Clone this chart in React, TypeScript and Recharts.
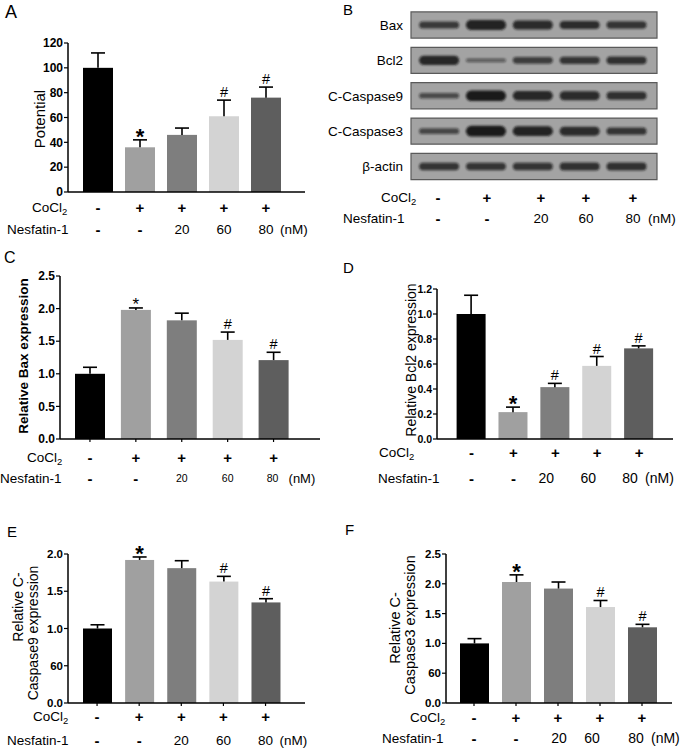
import React from 'react';
import { BarChart, Bar, XAxis, YAxis, Cell, ScatterChart, Scatter, ReferenceArea } from 'recharts';

const W = 685;
const H = 755;
const FONT = '"Liberation Sans", Arial, Helvetica, sans-serif';

// shared groups and treatment rows
const groups = ['Control', 'CoCl2', 'CoCl2+N20', 'CoCl2+N60', 'CoCl2+N80'];
const cocl2Row = ['-', '+', '+', '+', '+'];
const nesfatinRow = ['-', '-', '20', '60', '80'];
const barColors = ['#000000', '#a0a0a0', '#7e7e7e', '#d3d3d3', '#5e5e5e'];

// A - potential
const potentialMean = [100, 36, 46, 61, 76];
const potentialSd = [12, 6, 5.5, 13, 8.5];
const potentialSig = ['', '*', '', '#', '#'];
const potentialTicks = [0, 20, 40, 60, 80, 100, 120];
const potentialTickText = ['0', '20', '40', '60', '80', '100', '120'];

// C - Bax
const baxMean = [1.0, 1.98, 1.82, 1.52, 1.21];
const baxSd = [0.1, 0.03, 0.11, 0.12, 0.12];
const baxSig = ['', '*', '', '#', '#'];
const baxTicks = [0, 0.5, 1, 1.5, 2, 2.5];
const baxTickText = ['0.0', '0.5', '1.0', '1.5', '2.0', '2.5'];

// D - Bcl2
const bcl2Mean = [1.0, 0.215, 0.415, 0.585, 0.725];
const bcl2Sd = [0.15, 0.04, 0.03, 0.075, 0.02];
const bcl2Sig = ['', '*', '#', '#', '#'];
const bcl2Ticks = [0, 0.2, 0.4, 0.6, 0.8, 1.0, 1.2];
const bcl2TickText = ['0.0', '0.2', '0.4', '0.6', '0.8', '1.0', '1.2'];

// E - C-Caspase9
const casp9Mean = [1.0, 1.92, 1.81, 1.63, 1.35];
const casp9Sd = [0.05, 0.04, 0.1, 0.07, 0.05];
const casp9Sig = ['', '*', '', '#', '#'];
const casp9Ticks = [0, 0.5, 1, 1.5, 2];
const casp9TickText = ['0.0', '60', '1.0', '1.5', '2.0'];

// F - C-Caspase3
const casp3Mean = [1.0, 2.03, 1.92, 1.61, 1.27];
const casp3Sd = [0.08, 0.12, 0.11, 0.11, 0.05];
const casp3Sig = ['', '*', '', '#', '#'];
const casp3Ticks = [0, 0.5, 1, 1.5, 2, 2.5];
const casp3TickText = ['0.0', '60', '1.0', '1.5', '2.0', '2.5'];

// B - western blot band strength (0..1) per lane
const blotProteins = ['Bax', 'Bcl2', 'C-Caspase9', 'C-Caspase3', 'β-actin'];
const baxBand = [0.5, 0.85, 0.75, 0.65, 0.55];
const bcl2Band = [0.8, 0.1, 0.45, 0.55, 0.6];
const casp9Band = [0.3, 0.95, 0.8, 0.75, 0.6];
const casp3Band = [0.35, 0.95, 0.85, 0.75, 0.55];
const actinBand = [0.55, 0.55, 0.55, 0.6, 0.6];
const blotLanes = [1, 2, 3, 4, 5];

type PanelCfg = {
  letter: string;
  letterPos: [number, number];
  letterSize: number;
  mean: number[];
  sd: number[];
  sig: string[];
  ticks: number[];
  tickText: string[];
  tickFont: number;
  plot: { left: number; right: number; top: number; bottom: number };
  pad: [number, number];
  barSize: number;
  star: { size: number; bold: boolean };
  yLabel: { lines: string[]; xs: number[]; ys: number[]; bold: boolean; size: number };
  rows: { titleX: [number, number]; y: [number, number]; doseSize: number; doseDx: number[]; nmGap: number; nmSize: number };
  xTicks: boolean;
};

const panels: PanelCfg[] = [
  {
    letter: 'A', letterPos: [5, 18], letterSize: 18,
    mean: potentialMean, sd: potentialSd, sig: potentialSig,
    ticks: potentialTicks, tickText: potentialTickText, tickFont: 12,
    plot: { left: 68, right: 305, top: 43, bottom: 192 }, pad: [9, 18], barSize: 30,
    star: { size: 22, bold: true },
    yLabel: { lines: ['Potential'], xs: [39], ys: [119], bold: false, size: 15 },
    rows: { titleX: [32, 7], y: [207, 229], doseSize: 13.5, doseDx: [0, 0, 0, 0, 0], nmGap: 14, nmSize: 13.5 },
    xTicks: false,
  },
  {
    letter: 'C', letterPos: [4, 263], letterSize: 16,
    mean: baxMean, sd: baxSd, sig: baxSig,
    ticks: baxTicks, tickText: baxTickText, tickFont: 12,
    plot: { left: 60, right: 320, top: 276, bottom: 439 }, pad: [7, 23.5], barSize: 30,
    star: { size: 17, bold: false },
    yLabel: { lines: ['Relative Bax expression'], xs: [23], ys: [356], bold: true, size: 13.5 },
    rows: { titleX: [27, 0], y: [457, 478], doseSize: 10.5, doseDx: [0, 0, 0, 0, -1], nmGap: 16, nmSize: 13 },
    xTicks: true,
  },
  {
    letter: 'D', letterPos: [343, 273], letterSize: 15,
    mean: bcl2Mean, sd: bcl2Sd, sig: bcl2Sig,
    ticks: bcl2Ticks, tickText: bcl2TickText, tickFont: 10.5,
    plot: { left: 437, right: 673, top: 289, bottom: 439 }, pad: [13.6, 13], barSize: 29,
    star: { size: 22, bold: true },
    yLabel: { lines: ['Relative Bcl2 expression'], xs: [411], ys: [360], bold: false, size: 14 },
    rows: { titleX: [379, 378], y: [452, 478], doseSize: 14, doseDx: [0, 0, -9, -9, -9], nmGap: 15, nmSize: 14 },
    xTicks: false,
  },
  {
    letter: 'E', letterPos: [7, 537], letterSize: 15,
    mean: casp9Mean, sd: casp9Sd, sig: casp9Sig,
    ticks: casp9Ticks, tickText: casp9TickText, tickFont: 11.5,
    plot: { left: 68, right: 305, top: 554, bottom: 703 }, pad: [8, 18.4], barSize: 29,
    star: { size: 22, bold: true },
    yLabel: { lines: ['Relative C-', 'Caspase9 expression'], xs: [18, 33], ys: [607, 633], bold: false, size: 14 },
    rows: { titleX: [33, 7], y: [716, 740], doseSize: 13.5, doseDx: [0, 0, 0, 0, 0], nmGap: 14, nmSize: 13.5 },
    xTicks: true,
  },
  {
    letter: 'F', letterPos: [345, 535], letterSize: 15,
    mean: casp3Mean, sd: casp3Sd, sig: casp3Sig,
    ticks: casp3Ticks, tickText: casp3TickText, tickFont: 11.5,
    plot: { left: 446, right: 672, top: 554, bottom: 703 }, pad: [7, 9], barSize: 29,
    star: { size: 22, bold: true },
    yLabel: { lines: ['Relative C-', 'Caspase3 expression'], xs: [395, 410], ys: [628, 625], bold: false, size: 14.5 },
    rows: { titleX: [410, 382], y: [717, 738], doseSize: 14, doseDx: [0, 0, 1, -8, -6], nmGap: 15, nmSize: 14 },
    xTicks: true,
  },
];

const CoCl2Text = ({ x, y, size }: { x: number; y: number; size: number }) => (
  <text x={x} y={y} fontSize={size} fontFamily={FONT} dominantBaseline="central" fill="#000">
    CoCl<tspan fontSize={size * 0.7} dy={4}>2</tspan>
  </text>
);

const RowTick = (props: any) => {
  const { x, index, p } = props;
  const i = typeof index === 'number' ? index : groups.indexOf(props.payload?.value);
  const dose = nesfatinRow[i];
  const dx = p.rows.doseDx[i];
  const isNum = dose !== '-';
  return (
    <g fontFamily={FONT} fill="#000">
      <text x={x} y={p.rows.y[0]} textAnchor="middle" dominantBaseline="central" fontSize={15} fontWeight="bold">
        {cocl2Row[i]}
      </text>
      <text
        x={x + dx}
        y={p.rows.y[1]}
        textAnchor="middle"
        dominantBaseline="central"
        fontSize={isNum ? p.rows.doseSize : 15}
        fontWeight={isNum ? 'normal' : 'bold'}
      >
        {dose}
      </text>
      {i === groups.length - 1 && (
        <text x={x + dx + p.rows.nmGap} y={p.rows.y[1]} dominantBaseline="central" fontSize={p.rows.nmSize}>
          (nM)
        </text>
      )}
    </g>
  );
};

const BarWithError = (props: any) => {
  const { x, y, width, height, index, payload, star } = props;
  if (!payload || !height) return null;
  const pxPerUnit = height / payload.mean;
  const topY = y - payload.sd * pxPerUnit;
  const cx = x + width / 2;
  const sig = payload.sig;
  return (
    <g>
      <rect x={x} y={y} width={width} height={height} fill={barColors[index]} />
      <line x1={cx} x2={cx} y1={y} y2={topY} stroke="#000" strokeWidth={1.6} />
      <line x1={cx - 7} x2={cx + 7} y1={topY} y2={topY} stroke="#000" strokeWidth={1.6} />
      {sig === '*' && (
        <text x={cx} y={topY - 6 + star.size * 0.45} textAnchor="middle" fontFamily={FONT}
          fontSize={star.size} fontWeight={star.bold ? 'bold' : 'normal'} fill="#000">
          *
        </text>
      )}
      {sig === '#' && (
        <text x={cx} y={topY - 3} textAnchor="middle" fontFamily={FONT} fontSize={14.5} fill="#000">
          #
        </text>
      )}
    </g>
  );
};

const BarPanel = ({ p }: { p: PanelCfg }) => {
  const data = groups.map((g, i) => ({ group: g, mean: p.mean[i], sd: p.sd[i], sig: p.sig[i] }));
  const yW = 40;
  const xH = 30;
  return (
    <div style={{ position: 'absolute', left: 0, top: 0 }}>
      <BarChart
        width={W}
        height={H}
        data={data}
        margin={{ top: p.plot.top, left: p.plot.left - yW, right: W - p.plot.right, bottom: H - p.plot.bottom - xH }}
      >
        <XAxis
          dataKey="group"
          height={xH}
          interval={0}
          padding={{ left: p.pad[0], right: p.pad[1] }}
          axisLine={{ stroke: '#000', strokeWidth: 1.5 }}
          tickLine={p.xTicks ? { stroke: '#000', strokeWidth: 1.2 } : false}
          tickSize={3}
          tick={(tp: any) => <RowTick {...tp} p={p} />}
        />
        <YAxis
          width={yW}
          type="number"
          domain={[p.ticks[0], p.ticks[p.ticks.length - 1]]}
          ticks={p.ticks}
          interval={0}
          tickFormatter={(v: number) => p.tickText[p.ticks.indexOf(v)] ?? String(v)}
          axisLine={{ stroke: '#000', strokeWidth: 1.5 }}
          tickLine={{ stroke: '#000', strokeWidth: 1.2 }}
          tickSize={4}
          tickMargin={1}
          tick={{ fontSize: p.tickFont, fontWeight: 'bold', fill: '#000', fontFamily: FONT }}
        />
        <Bar
          dataKey="mean"
          barSize={p.barSize}
          isAnimationActive={false}
          shape={(bp: any) => <BarWithError {...bp} star={p.star} />}
        >
          {data.map((_, i) => (
            <Cell key={i} fill={barColors[i]} />
          ))}
        </Bar>
      </BarChart>
      <svg width={W} height={H} style={{ position: 'absolute', left: 0, top: 0, pointerEvents: 'none' }}>
        <text x={p.letterPos[0]} y={p.letterPos[1]} fontSize={p.letterSize} fontFamily={FONT} fill="#000">
          {p.letter}
        </text>
        {p.yLabel.lines.map((ln, k) => (
          <text
            key={k}
            x={p.yLabel.xs[k]}
            y={p.yLabel.ys[k]}
            transform={`rotate(-90 ${p.yLabel.xs[k]} ${p.yLabel.ys[k]})`}
            textAnchor="middle"
            dominantBaseline="central"
            fontSize={p.yLabel.size}
            fontWeight={p.yLabel.bold ? 'bold' : 'normal'}
            fontFamily={FONT}
            fill="#000"
          >
            {ln}
          </text>
        ))}
        <CoCl2Text x={p.rows.titleX[0]} y={p.rows.y[0]} size={13.5} />
        <text x={p.rows.titleX[1]} y={p.rows.y[1]} fontSize={13.5} fontFamily={FONT} dominantBaseline="central" fill="#000">
          Nesfatin-1
        </text>
      </svg>
    </div>
  );
};

const blotRows = [baxBand, bcl2Band, casp9Band, casp3Band, actinBand];
const blotData = blotRows.flatMap((row, r) => row.map((s, l) => ({ lane: blotLanes[l], row: r, signal: s })));

const Band = (props: any) => {
  const { cx, cy, payload } = props;
  if (cx == null || cy == null) return null;
  const s = payload.signal;
  const h = 3 + 8 * s;
  const w = 40;
  return (
    <rect
      x={cx - w / 2}
      y={cy - h / 2}
      width={w}
      height={h}
      rx={h / 2}
      fill="#141414"
      fillOpacity={0.45 + 0.55 * s}
      filter="url(#bandBlur)"
    />
  );
};

const BlotPanel = () => {
  const left = 411;
  const right = 657;
  const yW = 90;
  const signX = [438, 487, 541, 586, 633];
  return (
    <div style={{ position: 'absolute', left: 0, top: 0 }}>
      <ScatterChart width={W} height={H} margin={{ top: 7.3, bottom: H - 184.2, left: left - yW, right: W - right }}>
        <XAxis dataKey="lane" type="number" domain={[0.4, 5.65]} hide />
        <YAxis
          dataKey="row"
          type="number"
          domain={[-0.5, 4.5]}
          reversed
          ticks={[0, 1, 2, 3, 4]}
          interval={0}
          width={yW}
          axisLine={false}
          tickLine={false}
          tickSize={0}
          tickMargin={8}
          tickFormatter={(v: number) => blotProteins[v]}
          tick={{ fontSize: 13.5, fill: '#000', fontFamily: FONT }}
        />
        {blotProteins.map((_, r) => (
          <ReferenceArea
            key={r}
            x1={0.4}
            x2={5.65}
            y1={r - 0.37}
            y2={r + 0.37}
            fill="#a3a3a3"
            fillOpacity={1}
            stroke="#5a5a5a"
            strokeWidth={1.2}
          />
        ))}
        <Scatter data={blotData} isAnimationActive={false} shape={(sp: any) => <Band {...sp} />} />
      </ScatterChart>
      <svg width={W} height={H} style={{ position: 'absolute', left: 0, top: 0, pointerEvents: 'none' }}>
        <text x={343} y={15} fontSize={15} fontFamily={FONT} fill="#000">B</text>
        <CoCl2Text x={381} y={197} size={13.5} />
        <text x={343} y={218} fontSize={13.5} fontFamily={FONT} dominantBaseline="central" fill="#000">
          Nesfatin-1
        </text>
        {signX.map((sx, i) => (
          <g key={i} fontFamily={FONT} fill="#000">
            <text x={sx} y={197} textAnchor="middle" dominantBaseline="central" fontSize={15} fontWeight="bold">
              {cocl2Row[i]}
            </text>
            <text
              x={sx}
              y={218}
              textAnchor="middle"
              dominantBaseline="central"
              fontSize={nesfatinRow[i] === '-' ? 15 : 13.5}
              fontWeight={nesfatinRow[i] === '-' ? 'bold' : 'normal'}
            >
              {nesfatinRow[i]}
            </text>
          </g>
        ))}
        <text x={648} y={218} fontSize={13.5} fontFamily={FONT} dominantBaseline="central" fill="#000">(nM)</text>
      </svg>
    </div>
  );
};

export default function App() {
  return (
    <div style={{ position: 'absolute', left: 0, top: 0, width: W, height: H, background: '#fff', fontFamily: FONT }}>
      <svg width={0} height={0} style={{ position: 'absolute' }}>
        <defs>
          <filter id="bandBlur" x="-20%" y="-150%" width="140%" height="400%">
            <feGaussianBlur stdDeviation="0.9" />
          </filter>
        </defs>
      </svg>
      <BlotPanel />
      {panels.map((p) => (
        <BarPanel key={p.letter} p={p} />
      ))}
    </div>
  );
}
